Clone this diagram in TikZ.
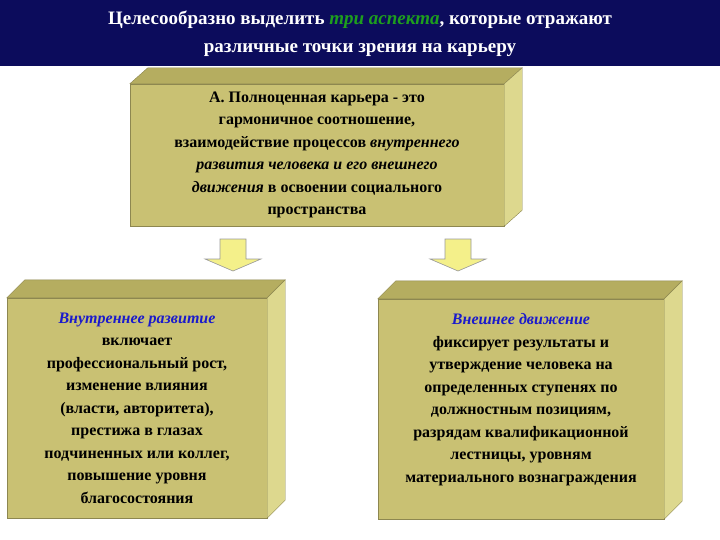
\documentclass[tikz,border=0pt]{standalone}
\usepackage{fontspec}
\setmainfont{Liberation Serif}
\definecolor{navy}{HTML}{0C0C5C}
\definecolor{khaki}{HTML}{C9C173}
\definecolor{khakitop}{HTML}{B5AD60}
\definecolor{khakiside}{HTML}{DDD88E}
\definecolor{bluet}{HTML}{1A1ACC}
\definecolor{greent}{HTML}{1E9E1E}
\definecolor{arrowy}{HTML}{F4F08A}
\tikzset{
  front/.style={fill=khaki, draw=khaki!70!black, line width=0.4pt, inner sep=0pt, align=center, font=\bfseries\fontsize{16}{22.5}\selectfont},
  topface/.style={fill=khakitop, draw=khaki!70!black, line width=0.4pt},
  sideface/.style={fill=khakiside, draw=khaki!70!black, line width=0.4pt},
  blockarrow/.style={fill=arrowy, draw=gray!80, line width=0.6pt}
}
\newcommand{\downarr}[1]{%
  \draw[blockarrow] (#1) ++(-13,0) -- ++(26,0) -- ++(0,20) -- ++(15,0) -- ++(-28,12) -- ++(-28,-12) -- ++(15,0) -- cycle;}
\begin{document}
\begin{tikzpicture}[x=1pt,y=-1pt]
\useasboundingbox (0,0) rectangle (720,540);
\fill[white] (0,0) rectangle (720,540);
\fill[navy] (0,0) rectangle (720,66);
\node[text=white, font=\bfseries\fontsize{19}{28}\selectfont, align=center] (title) at (360,34)
 {Целесообразно выделить \textcolor{greent}{\itshape три аспекта}, которые отражают\\ различные точки зрения на карьеру};
% top box
\node[front, minimum width=374pt, minimum height=142pt] (A) at (317,155)
 {А. Полноценная карьера - это\\ гармоничное соотношение,\\ взаимодействие процессов \textit{внутреннего}\\ \textit{развития человека и его внешнего}\\ \textit{движения} в освоении социального\\ пространства};
\draw[topface] (A.north west) -- ++(18,-16) -- ([xshift=18pt,yshift=16pt]A.north east) -- (A.north east) -- cycle;
\draw[sideface] (A.north east) -- ++(18,-16) -- ([xshift=18pt,yshift=16pt]A.south east) -- (A.south east) -- cycle;
% arrows
\coordinate (a1) at (233,239);
\coordinate (a2) at (458,239);
\downarr{a1}
\downarr{a2}
% left box
\node[front, minimum width=260pt, minimum height=220pt] (L) at (137,408)
 {\textcolor{bluet}{\itshape Внутреннее развитие}\\ включает\\ профессиональный рост,\\ изменение влияния\\ (власти, авторитета),\\ престижа в глазах\\ подчиненных или коллег,\\ повышение уровня\\ благосостояния};
\draw[topface] (L.north west) -- ++(18,-18) -- ([xshift=18pt,yshift=18pt]L.north east) -- (L.north east) -- cycle;
\draw[sideface] (L.north east) -- ++(18,-18) -- ([xshift=18pt,yshift=18pt]L.south east) -- (L.south east) -- cycle;
% right box
\node[front, minimum width=286pt, minimum height=220pt] (R) at (521,409)
 {\textcolor{bluet}{\itshape Внешнее движение}\\ фиксирует результаты и\\ утверждение человека на\\ определенных ступенях по\\ должностным позициям,\\ разрядам квалификационной\\ лестницы, уровням\\ материального вознаграждения\\ \mbox{}};
\draw[topface] (R.north west) -- ++(18,-18) -- ([xshift=18pt,yshift=18pt]R.north east) -- (R.north east) -- cycle;
\draw[sideface] (R.north east) -- ++(18,-18) -- ([xshift=18pt,yshift=18pt]R.south east) -- (R.south east) -- cycle;
\end{tikzpicture}
\end{document}
